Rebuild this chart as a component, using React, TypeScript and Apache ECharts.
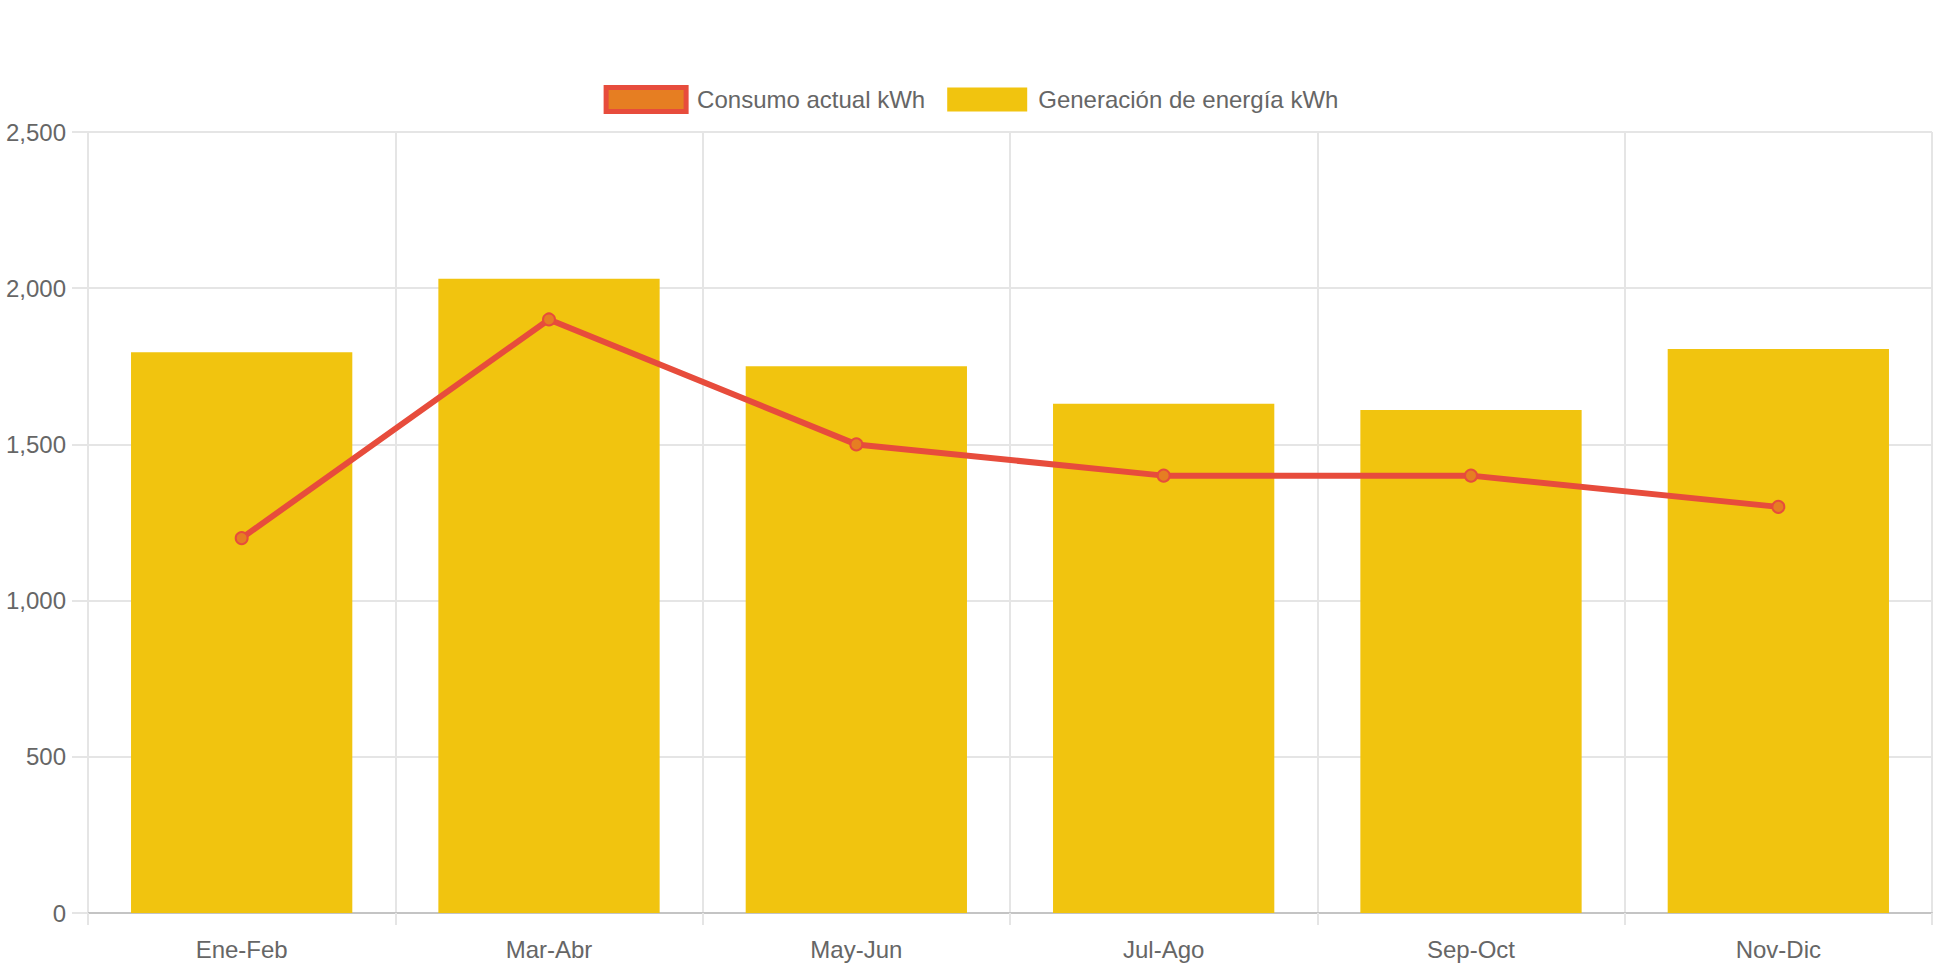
import React, { useEffect, useRef } from "react";
import * as echarts from "echarts";

const categories = ["Ene-Feb", "Mar-Abr", "May-Jun", "Jul-Ago", "Sep-Oct", "Nov-Dic"];
const consumo = [1200, 1900, 1500, 1400, 1400, 1300];
const generacion = [1795, 2030, 1750, 1630, 1610, 1805];
const consumoName = "Consumo actual kWh";
const generacionName = "Generación de energía kWh";

const FONT = "'Liberation Sans', Arial, Helvetica, sans-serif";
const TEXT = "#666666";
const GRID = "#e5e5e5";

export default function App() {
  const ref = useRef<HTMLDivElement>(null);
  useEffect(() => {
    if (!ref.current) return;
    const chart = echarts.init(ref.current, undefined, { renderer: "svg" });
    chart.setOption({
      animation: false,
      textStyle: { fontFamily: FONT },
      legend: {
        top: 80,
        left: "center",
        itemWidth: 80,
        itemHeight: 24,
        itemGap: 22,
        textStyle: { fontFamily: FONT, fontSize: 24, color: TEXT, padding: [0, 0, 0, 6] },
        data: [
          {
            name: consumoName,
            icon: "rect",
            itemStyle: { color: "#e67e22", borderColor: "#e74c3c", borderWidth: 5 },
          },
          { name: generacionName, icon: "rect", itemStyle: { color: "#f1c40f" } },
        ],
      },
      grid: { left: 88, right: 10, top: 132, bottom: 57, containLabel: false },
      xAxis: {
        type: "category",
        data: categories,
        boundaryGap: true,
        axisLine: { show: true, lineStyle: { color: "#c4c4c4", width: 2 } },
        axisTick: { show: true, length: 12, lineStyle: { color: GRID, width: 2 } },
        axisLabel: { fontFamily: FONT, fontSize: 24, color: TEXT, margin: 24 },
        splitLine: { show: true, lineStyle: { color: GRID, width: 2 } },
      },
      yAxis: {
        type: "value",
        min: 0,
        max: 2500,
        interval: 500,
        axisLine: { show: true, lineStyle: { color: GRID, width: 2 } },
        axisTick: { show: true, length: 16, lineStyle: { color: GRID, width: 2 } },
        axisLabel: {
          fontFamily: FONT,
          fontSize: 24,
          color: TEXT,
          margin: 22,
          formatter: (v: number) => v.toLocaleString("en-US"),
        },
        splitLine: { show: true, lineStyle: { color: GRID, width: 2 } },
      },
      series: [
        {
          name: consumoName,
          type: "line",
          data: consumo,
          z: 3,
          symbol: "circle",
          symbolSize: 12,
          lineStyle: { color: "#e74c3c", width: 6 },
          itemStyle: { color: "#e67e22", borderColor: "#e74c3c", borderWidth: 2 },
        },
        {
          name: generacionName,
          type: "bar",
          data: generacion,
          z: 2,
          barWidth: "72%",
          itemStyle: { color: "#f1c40f" },
        },
      ],
    });
    return () => chart.dispose();
  }, []);
  return (
    <div
      ref={ref}
      style={{ position: "fixed", left: 0, top: 0, width: 1942, height: 970, background: "#fff" }}
    />
  );
}
